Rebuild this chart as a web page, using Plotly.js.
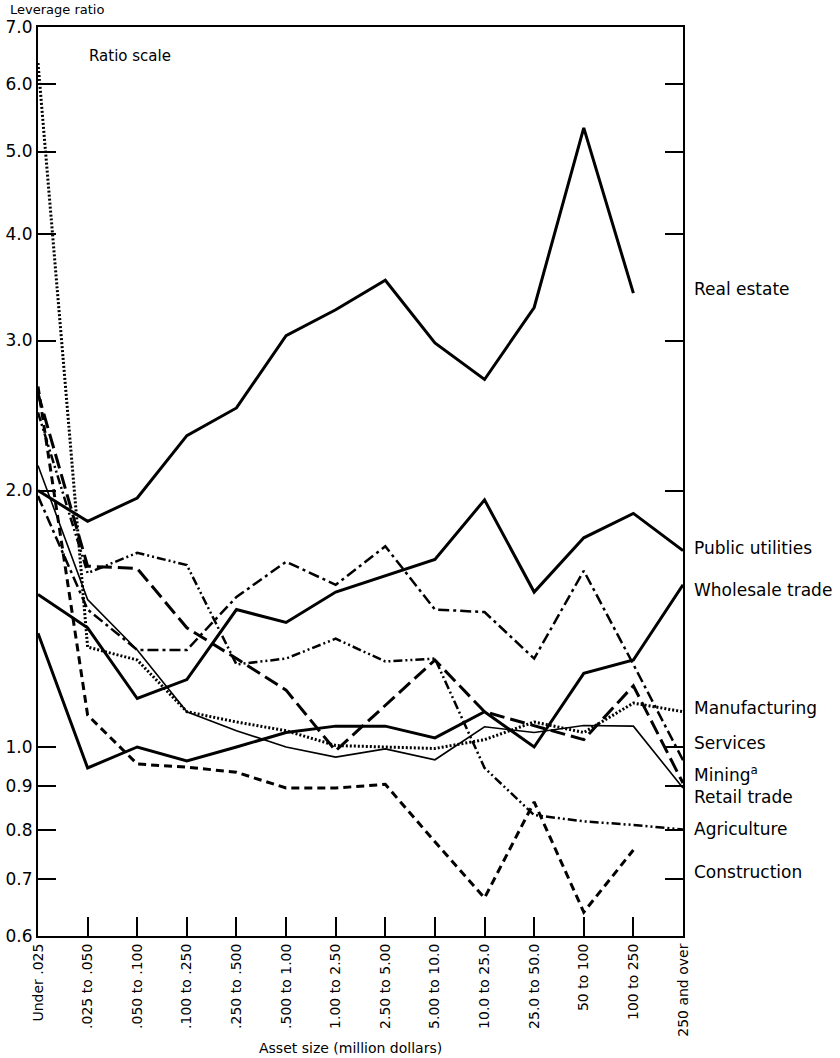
<!DOCTYPE html>
<html>
<head>
<meta charset="utf-8">
<script src="https://cdn.plot.ly/plotly-3.0.1.min.js"></script>
<style>
  html, body { margin: 0; padding: 0; background: #fff; }
  #chart { width: 840px; height: 1058px; }
</style>
</head>
<body>
<div id="chart"></div>
<script>
// Asset size classes (million dollars)
const sizeClasses = [
  "Under .025", ".025 to .050", ".050 to .100", ".100 to .250", ".250 to .500",
  ".500 to 1.00", "1.00 to 2.50", "2.50 to 5.00", "5.00 to 10.0", "10.0 to 25.0",
  "25.0 to 50.0", "50 to 100", "100 to 250", "250 and over"
];

// Leverage ratio by industry and asset size
const realEstate      = [2.00, 1.84, 1.96, 2.32, 2.50, 3.04, 3.26, 3.53, 2.98, 2.70, 3.28, 5.33, 3.41, null];
const publicUtilities = [1.51, 1.38, 1.14, 1.20, 1.45, 1.40, 1.52, 1.59, 1.66, 1.95, 1.52, 1.76, 1.88, 1.70];
const wholesaleTrade  = [1.36, 0.945, 1.00, 0.963, 1.00, 1.04, 1.058, 1.058, 1.025, 1.10, 1.00, 1.22, 1.265, 1.55];
const manufacturing   = [6.35, 1.31, 1.265, 1.10, 1.07, 1.045, 1.004, 1.00, 0.996, 1.02, 1.07, 1.04, 1.126, 1.10];
const services        = [1.97, 1.45, 1.30, 1.30, 1.50, 1.65, 1.55, 1.72, 1.45, 1.44, 1.27, 1.61, 1.25, 0.965];
const mining          = [2.60, 1.63, 1.62, 1.38, 1.27, 1.166, 0.99, 1.12, 1.265, 1.10, 1.06, 1.02, 1.18, 0.907];
const retailTrade     = [2.14, 1.49, 1.30, 1.10, 1.045, 1.00, 0.973, 0.995, 0.966, 1.056, 1.04, 1.06, 1.058, 0.895];
const agriculture     = [2.47, 1.60, 1.69, 1.635, 1.25, 1.27, 1.34, 1.26, 1.27, 0.945, 0.832, 0.818, 0.81, 0.80];
const construction    = [2.65, 1.09, 0.955, 0.947, 0.934, 0.895, 0.895, 0.904, 0.774, 0.665, 0.862, 0.64, 0.757, null];

// Y axis ticks (ratio scale)
const yTickValues = [0.6, 0.7, 0.8, 0.9, 1.0, 2.0, 3.0, 4.0, 5.0, 6.0, 7.0];
const yTickLabels = ["0.6", "0.7", "0.8", "0.9", "1.0", "2.0", "3.0", "4.0", "5.0", "6.0", "7.0"];

// Series names as printed at the right edge, and the level each name sits at
const seriesNames  = ["Real estate", "Public utilities", "Wholesale trade", "Manufacturing",
                      "Services", "Mining<sup>a</sup>", "Retail trade", "Agriculture", "Construction"];
const nameLevels   = [3.45, 1.713, 1.529, 1.111, 1.011, 0.930, 0.874, 0.801, 0.713];

const FONT = "DejaVu Sans, Arial, sans-serif";

const styles = [
  { width: 3,   dash: "solid" },
  { width: 3,   dash: "solid" },
  { width: 3,   dash: "solid" },
  { width: 3,   dash: "2px,2px" },
  { width: 2.5, dash: "11px,4px,3px,4px" },
  { width: 3,   dash: "15px,6px" },
  { width: 1.6, dash: "solid" },
  { width: 2.5, dash: "9px,3px,2px,3px,2px,3px" },
  { width: 3,   dash: "8px,5px" }
];

const seriesValues = [realEstate, publicUtilities, wholesaleTrade, manufacturing,
                      services, mining, retailTrade, agriculture, construction];

const traces = seriesValues.map((vals, i) => ({
  type: "scatter",
  mode: "lines",
  x: sizeClasses,
  y: vals,
  name: seriesNames[i],
  connectgaps: false,
  line: { color: "#000", width: styles[i].width, dash: styles[i].dash },
  hoverinfo: "x+y+name"
}));

const annotations = seriesNames.map((n, i) => ({
  text: n,
  xref: "paper", yref: "y",
  x: 1.0, xshift: 9,
  y: Math.log10(nameLevels[i]),
  xanchor: "left", yanchor: "middle",
  showarrow: false,
  font: { family: FONT, size: 17, color: "#000" }
}));

annotations.push(
  { text: "Leverage ratio", xref: "paper", yref: "paper", x: -0.0465, y: 1.0,
    yshift: 18, xanchor: "left", yanchor: "middle", showarrow: false,
    font: { family: FONT, size: 13, color: "#000" } },
  { text: "Ratio scale", xref: "paper", yref: "paper", x: 0.076, y: 0.968,
    xanchor: "left", yanchor: "middle", showarrow: false,
    font: { family: FONT, size: 15, color: "#000" } },
  { text: "Asset size (million dollars)", xref: "paper", yref: "paper", x: 0.485, y: 0,
    yshift: -112, xanchor: "center", yanchor: "middle", showarrow: false,
    font: { family: FONT, size: 14, color: "#000" } }
);

const layout = {
  width: 840, height: 1058,
  margin: { l: 38, r: 157, t: 27, b: 122, pad: 0 },
  paper_bgcolor: "#fff", plot_bgcolor: "#fff",
  showlegend: false,
  xaxis: {
    type: "category",
    categoryorder: "array", categoryarray: sizeClasses,
    range: [0, 13],
    tickangle: -90,
    ticks: "inside", ticklen: 19, tickwidth: 2, tickcolor: "#000",
    showline: true, linewidth: 2, linecolor: "#000", mirror: true,
    showgrid: false, zeroline: false,
    tickfont: { family: FONT, size: 14, color: "#000" }
  },
  yaxis: {
    type: "log",
    range: [Math.log10(0.6), Math.log10(7.0)],
    tickmode: "array", tickvals: yTickValues, ticktext: yTickLabels,
    ticks: "inside", ticklen: 18, tickwidth: 2, tickcolor: "#000",
    showline: true, linewidth: 2, linecolor: "#000", mirror: "ticks",
    showgrid: false, zeroline: false,
    tickfont: { family: FONT, size: 17, color: "#000" }
  },
  annotations: annotations
};

Plotly.newPlot("chart", traces, layout, { displayModeBar: false, staticPlot: true });
</script>
</body>
</html>
